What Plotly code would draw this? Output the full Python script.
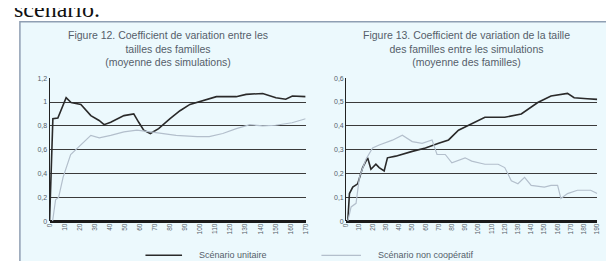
import plotly.graph_objects as go

W, H = 614, 261

# ---- data ----
left_unit_x = [0, 2.2, 5.5, 11, 14.3, 20.8, 27.4, 32.9, 36.2, 40.6, 49.4, 55.9, 59.2, 62.5, 66.9, 72.4, 80, 86.6, 93.2, 102, 110.8, 123.9, 130.5, 141.5, 150.3, 156.8, 161.2, 170]
left_unit_y = [0, 0.86, 0.865, 1.036, 0.995, 0.98, 0.886, 0.845, 0.81, 0.83, 0.886, 0.9, 0.83, 0.764, 0.736, 0.777, 0.86, 0.927, 0.98, 1.01, 1.045, 1.045, 1.064, 1.072, 1.036, 1.023, 1.05, 1.045]

left_nc_x = [2, 4, 6, 9, 14, 20.8, 27.4, 33, 40.6, 49.4, 58, 67, 75.6, 84, 98, 106, 115, 124, 133, 141.5, 150, 161, 170]
left_nc_y = [0, 0.18, 0.2, 0.37, 0.56, 0.64, 0.72, 0.7, 0.72, 0.75, 0.764, 0.75, 0.736, 0.72, 0.71, 0.71, 0.736, 0.777, 0.81, 0.8, 0.805, 0.826, 0.86]

right_unit_x = [1.25, 2.5, 5, 8.75, 12.5, 16.25, 18.75, 22.5, 25, 28.75, 31.25, 37.5, 50, 60, 70, 77.5, 85, 95, 105, 120, 132.5, 145, 155, 167.5, 172.5, 182.5, 190]
right_unit_y = [0, 0.116, 0.143, 0.157, 0.225, 0.266, 0.218, 0.239, 0.225, 0.211, 0.266, 0.273, 0.293, 0.307, 0.327, 0.341, 0.382, 0.409, 0.436, 0.436, 0.45, 0.498, 0.525, 0.536, 0.518, 0.514, 0.511]

right_nc_x = [1.25, 3.75, 7.5, 10, 15, 20, 25, 35, 42.5, 50, 57.5, 65, 68.75, 75, 80, 90, 95, 105, 115, 120, 125, 130, 135, 140, 150, 155, 160, 162.5, 167.5, 175, 185, 190]
right_nc_y = [0, 0.06, 0.075, 0.184, 0.26, 0.307, 0.32, 0.34, 0.361, 0.334, 0.327, 0.341, 0.28, 0.28, 0.245, 0.266, 0.252, 0.239, 0.239, 0.225, 0.17, 0.157, 0.184, 0.15, 0.143, 0.15, 0.15, 0.095, 0.116, 0.13, 0.13, 0.116]

left_xticks = list(range(0, 171, 10))
right_xticks = list(range(0, 191, 10))
left_yticks = [0, 0.2, 0.4, 0.6, 0.8, 1, 1.2]
left_ylabels = ["0", "0,2", "0,4", "0,6", "0,8", "1", "1,2"]
right_yticks = [0, 0.1, 0.2, 0.3, 0.4, 0.5, 0.6]
right_ylabels = ["0", "0,1", "0,2", "0,3", "0,4", "0,5", "0,6"]

name_unit = "Scénario unitaire"
name_nc = "Scénario non coopératif"
title_left = "Figure 12. Coefficient de variation entre les<br>tailles des familles<br>(moyenne des simulations)"
title_right = "Figure 13. Coefficient de variation de la taille<br>des familles entre les simulations<br>(moyenne des familles)"

# ---- styles ----
PANEL = "#ecf9fd"
DARK = "#2a2a2a"
LIGHT = "#b3bfcc"
TXT = "#555e6a"

def px_x(p):
    return p / W

def px_y(p):
    return 1 - p / H

fig = go.Figure()
fig.add_trace(go.Scatter(x=left_unit_x, y=left_unit_y, mode="lines", name=name_unit,
                         line=dict(color=DARK, width=1.6), xaxis="x", yaxis="y"))
fig.add_trace(go.Scatter(x=left_nc_x, y=left_nc_y, mode="lines", name=name_nc,
                         line=dict(color=LIGHT, width=1.2), xaxis="x", yaxis="y"))
fig.add_trace(go.Scatter(x=right_unit_x, y=right_unit_y, mode="lines", name=name_unit,
                         line=dict(color=DARK, width=1.6), xaxis="x2", yaxis="y2"))
fig.add_trace(go.Scatter(x=right_nc_x, y=right_nc_y, mode="lines", name=name_nc,
                         line=dict(color=LIGHT, width=1.2), xaxis="x2", yaxis="y2"))

xcommon = dict(tickmode="array", tickangle=-90, tickfont=dict(size=6.5, color=TXT, family="Arial"),
               showgrid=False, zeroline=False, showline=False, ticks="", fixedrange=True)
ycommon = dict(tickmode="array", tickfont=dict(size=7, color=TXT, family="Arial"),
               showgrid=True, gridcolor="#3a3a3a", gridwidth=1, zeroline=True, zerolinecolor="#1a1a1a",
               zerolinewidth=3, showline=True, linecolor="#222", linewidth=1, ticks="", fixedrange=True)

# manual legend (line sample + label)
leg_y = 250
legend_items = [(135, 172, 187, DARK, 1.6, name_unit), (313, 353, 368, LIGHT, 1.2, name_nc)]
shapes = [dict(type="rect", xref="paper", yref="paper", x0=px_x(8), x1=px_x(613), y0=px_y(258), y1=px_y(10),
               fillcolor=PANEL, line=dict(color="#8f9fb3", width=1.5), layer="below")]
annotations = [
    dict(text="scenario.", xref="paper", yref="paper", x=0, y=px_y(12), xanchor="left", yanchor="bottom",
         showarrow=False, font=dict(size=24, color="#111", family="Liberation Serif")),
    dict(text=title_left, xref="paper", yref="paper", x=px_x(158), y=px_y(15), xanchor="center", yanchor="top",
         showarrow=False, font=dict(size=10.5, color=TXT, family="Arial")),
    dict(text=title_right, xref="paper", yref="paper", x=px_x(460), y=px_y(15), xanchor="center", yanchor="top",
         showarrow=False, font=dict(size=10.5, color=TXT, family="Arial")),
]
for x0, x1, tx, col, w, name in legend_items:
    shapes.append(dict(type="line", xref="paper", yref="paper", x0=px_x(x0), x1=px_x(x1),
                       y0=px_y(leg_y), y1=px_y(leg_y), line=dict(color=col, width=w)))
    annotations.append(dict(text=name, xref="paper", yref="paper", x=px_x(tx), y=px_y(leg_y),
                            xanchor="left", yanchor="middle", showarrow=False,
                            font=dict(size=9, color=TXT, family="Arial")))

fig.update_layout(
    width=W, height=H,
    margin=dict(l=0, r=0, t=0, b=0),
    paper_bgcolor="white",
    plot_bgcolor="rgba(0,0,0,0)",
    showlegend=False,
    xaxis=dict(domain=[px_x(38), px_x(297)], range=[0, 170], tickvals=left_xticks,
               ticktext=[str(v) for v in left_xticks], anchor="y", **xcommon),
    yaxis=dict(domain=[px_y(215), px_y(68)], range=[0, 1.2], tickvals=left_yticks,
               ticktext=left_ylabels, anchor="x", **ycommon),
    xaxis2=dict(domain=[px_x(338), px_x(592)], range=[0, 190], tickvals=right_xticks,
                ticktext=[str(v) for v in right_xticks], anchor="y2", **xcommon),
    yaxis2=dict(domain=[px_y(215), px_y(68)], range=[0, 0.6], tickvals=right_yticks,
                ticktext=right_ylabels, anchor="x2", **ycommon),
    shapes=shapes,
    annotations=annotations,
)

fig.write_html("out.html")
